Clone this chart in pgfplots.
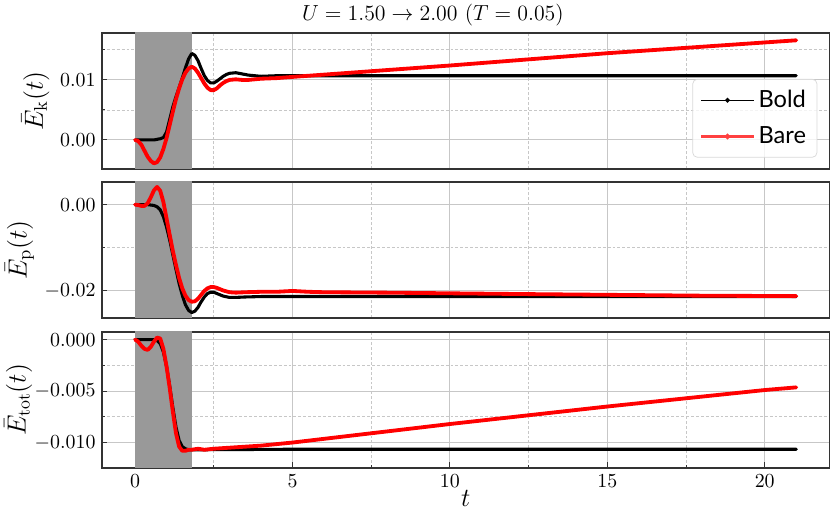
\documentclass[border=0pt]{standalone}
\usepackage{fontspec}
\newfontfamily\lato{Lato}
\usepackage{pgfplots}
\pgfplotsset{compat=1.18}
\begin{document}
\begin{tikzpicture}
\pgfplotsset{
 panel/.style={
   scale only axis, width=400pt, height=74.8pt,
   xmin=-1.05, xmax=22.05,
   axis line style={black!80, line width=0.7pt},
   tick align=inside, ytick pos=left, xtick pos=bottom,
   xtick={0,5,10,15,20}, minor xtick={2.5,7.5,12.5,17.5},
   grid=both,
   major grid style={black!22, line width=0.55pt},
   minor grid style={black!22, dash pattern=on 1.6pt off 1.1pt, line width=0.45pt},
   major tick length=3pt, minor tick length=1.8pt,
   tick style={black!80, line width=0.5pt},
   tick label style={font=\fontsize{10.6}{12}\selectfont},
   label style={font=\fontsize{14.5}{16}\selectfont},
   ylabel style={yshift=-1pt},
   scaled y ticks=false,
   yticklabel style={/pgf/number format/fixed, /pgf/number format/fixed zerofill},
 },
 noxt/.style={xticklabels={}, xtick style={draw=none}},
 blk/.style={black, line width=1.7pt, line join=round, line cap=round, forget plot},
 rd/.style={red, line width=2.1pt, line join=round, line cap=round, forget plot},
 shade/.style={draw=none, fill=black!40, forget plot},
}
% ---------- panel 1 ----------
\begin{axis}[panel, noxt, at={(0pt,164.45pt)}, anchor=south west,
  ymin=-0.00483, ymax=0.01783, ytick={0,0.01}, minor ytick={0.005,0.015},
  yticklabel style={/pgf/number format/precision=2},
  ylabel={$\bar{E}_{\mathrm{k}}(t)$},
  title={$U = 1.50 \to 2.00$ $(T = 0.05)$},
  title style={at={(0.455,1)}, anchor=south, yshift=-5.5pt, font=\fontsize{12.3}{14}\selectfont},
  legend style={at={(0.9835,0.662)}, anchor=north east, draw=black!15, rounded corners=2.5pt,
    fill=white, fill opacity=0.8, text opacity=1, font=\lato\fontsize{13}{15}\selectfont,
    inner xsep=4pt, inner ysep=4pt, row sep=5pt},
  legend cell align=left,
  legend image code/.code={\draw[#1] (0pt,0pt) -- (29pt,0pt); \fill[#1] (14.5pt,0pt) circle (0.9pt);},
]
\addplot[shade] coordinates {(0,-1) (1.8,-1) (1.8,1) (0,1)};
\addplot[blk] coordinates {(0,0)(0.2,0)(0.4,0)(0.6,0)(0.7,0.0001)(0.8,0.0002)(0.9,0.0004)(1.0,0.0013)(1.1,0.0034)(1.2,0.0055)(1.3,0.0072)(1.4,0.0087)(1.5,0.0103)(1.6,0.0120)(1.7,0.0135)(1.8,0.0144)(1.9,0.0141)(2.0,0.0132)(2.1,0.0119)(2.2,0.0107)(2.3,0.0099)(2.4,0.0095)(2.5,0.0095)(2.6,0.0098)(2.7,0.0102)(2.8,0.0106)(2.9,0.0109)(3.0,0.0111)(3.2,0.0112)(3.4,0.0110)(3.6,0.0108)(3.8,0.0107)(4.0,0.0106)(4.5,0.0107)(5,0.0107)(8,0.0107)(12,0.0107)(16,0.0107)(21,0.0107)};
\addplot[rd] coordinates {(0,0)(0.1,-0.0002)(0.2,-0.0008)(0.3,-0.0018)(0.4,-0.0028)(0.5,-0.0035)(0.6,-0.0039)(0.7,-0.0037)(0.8,-0.0029)(0.9,-0.0015)(1.0,0.0003)(1.1,0.0025)(1.2,0.0047)(1.3,0.0068)(1.4,0.0086)(1.5,0.0101)(1.6,0.0112)(1.7,0.0119)(1.8,0.0122)(1.9,0.0119)(2.0,0.0112)(2.1,0.0103)(2.2,0.0094)(2.3,0.0087)(2.4,0.0083)(2.5,0.0083)(2.6,0.0086)(2.7,0.0091)(2.8,0.0095)(2.9,0.0098)(3.0,0.0100)(3.2,0.0101)(3.4,0.0100)(3.6,0.0100)(3.8,0.0101)(4.0,0.0102)(4.5,0.0103)(5,0.0105)(10,0.0124)(15,0.01445)(21,0.0166)};
\addlegendimage{black, line width=0.7pt}
\addlegendentry{Bold}
\addlegendimage{red!75, line width=1.2pt}
\addlegendentry{Bare}
\end{axis}
% ---------- panel 2 ----------
\begin{axis}[panel, noxt, at={(0pt,82.5pt)}, anchor=south west,
  ymin=-0.02626, ymax=0.00525, ytick={-0.02,0}, minor ytick={-0.01},
  yticklabel style={/pgf/number format/precision=2},
  ylabel={$\bar{E}_{\mathrm{p}}(t)$},
]
\addplot[shade] coordinates {(0,-1) (1.8,-1) (1.8,1) (0,1)};
\addplot[blk] coordinates {(0,0)(0.2,0)(0.4,0)(0.5,-0.0001)(0.6,-0.0002)(0.7,-0.0005)(0.8,-0.0012)(0.9,-0.0028)(1.0,-0.0052)(1.1,-0.0082)(1.2,-0.0116)(1.3,-0.0150)(1.4,-0.0183)(1.5,-0.0210)(1.6,-0.0232)(1.7,-0.0245)(1.8,-0.0250)(1.9,-0.0247)(2.0,-0.0238)(2.1,-0.0225)(2.2,-0.0214)(2.3,-0.0206)(2.4,-0.0203)(2.5,-0.0203)(2.6,-0.0206)(2.7,-0.0209)(2.8,-0.0212)(3.0,-0.0215)(3.2,-0.0215)(3.5,-0.0214)(4,-0.0213)(5,-0.0213)(10,-0.0213)(15,-0.0213)(21,-0.0213)};
\addplot[rd] coordinates {(0,0)(0.1,-0.0001)(0.2,-0.0003)(0.3,-0.0003)(0.4,0.0003)(0.5,0.0017)(0.6,0.0033)(0.7,0.0041)(0.8,0.0032)(0.9,0.0006)(1.0,-0.0032)(1.1,-0.0070)(1.2,-0.0107)(1.3,-0.0140)(1.4,-0.0170)(1.5,-0.0194)(1.6,-0.0211)(1.7,-0.0221)(1.8,-0.0225)(1.9,-0.0224)(2.0,-0.0218)(2.1,-0.0209)(2.2,-0.0200)(2.3,-0.0194)(2.4,-0.0191)(2.5,-0.0191)(2.6,-0.0193)(2.8,-0.0199)(3.0,-0.0203)(3.2,-0.0204)(3.5,-0.0203)(4,-0.0202)(4.5,-0.0202)(5,-0.0200)(5.5,-0.0202)(6,-0.0203)(8,-0.0204)(10,-0.02055)(12,-0.0207)(15,-0.0209)(18,-0.0211)(21,-0.0212)};
\end{axis}
% ---------- panel 3 ----------
\begin{axis}[panel, at={(0pt,0pt)}, anchor=south west,
  ymin=-0.01246, ymax=0.00075, ytick={-0.01,-0.005,0}, minor ytick={-0.0075,-0.0025},
  yticklabel style={/pgf/number format/precision=3},
  ylabel={$\bar{E}_{\mathrm{tot}}(t)$}, ylabel style={yshift=-4.5pt, font=\fontsize{14}{16}\selectfont},
  xlabel={$t$}, xlabel style={yshift=5pt},
]
\addplot[shade] coordinates {(0,-1) (1.8,-1) (1.8,1) (0,1)};
\addplot[blk] coordinates {(0,0)(0.2,0)(0.4,0)(0.6,0)(0.7,-0.0001)(0.8,-0.0004)(0.9,-0.0012)(1.0,-0.0026)(1.1,-0.0045)(1.2,-0.0066)(1.3,-0.0085)(1.4,-0.0098)(1.5,-0.0104)(1.6,-0.0106)(1.7,-0.0107)(2.0,-0.0107)(5,-0.01065)(10,-0.01065)(21,-0.01065)};
\addplot[rd] coordinates {(0,0)(0.1,-0.0002)(0.2,-0.0006)(0.3,-0.0009)(0.4,-0.0010)(0.5,-0.0007)(0.6,-0.0002)(0.7,0.0002)(0.8,0.0001)(0.9,-0.0009)(1.0,-0.0026)(1.1,-0.0047)(1.2,-0.0070)(1.3,-0.0091)(1.4,-0.0104)(1.5,-0.0108)(1.6,-0.0108)(1.7,-0.0107)(1.8,-0.0107)(2.0,-0.0106)(2.2,-0.0107)(2.5,-0.0106)(3,-0.0105)(4,-0.0103)(5,-0.0100)(10,-0.0082)(15,-0.0065)(20,-0.0049)(21,-0.00464)};
\end{axis}
\pgfresetboundingbox
\path[use as bounding box] (-56.1pt,-24.2pt) rectangle (400.4pt,257.4pt);
\end{tikzpicture}
\end{document}
